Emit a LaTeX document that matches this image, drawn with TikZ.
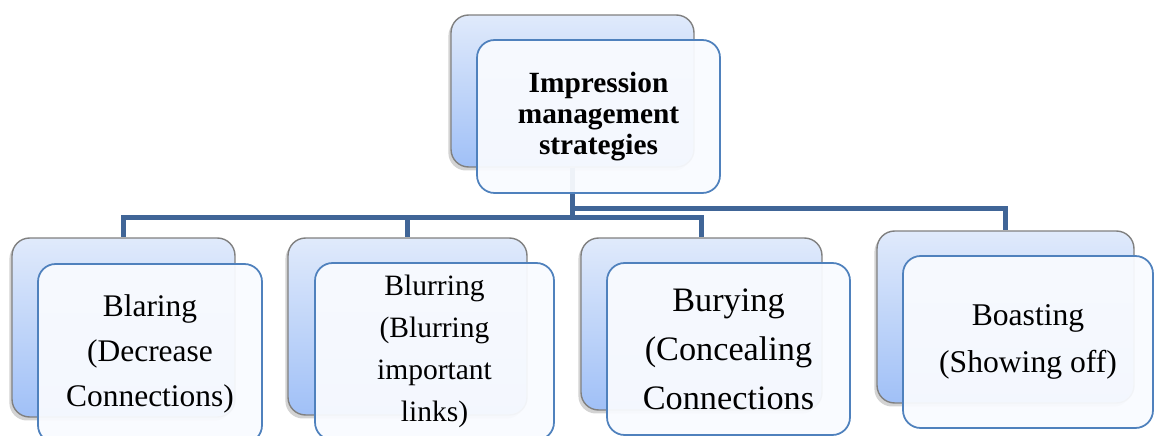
\documentclass[tikz,border=0pt]{standalone}
\usepackage{fontspec}
\setmainfont{Liberation Serif}
\usepackage{tikz}
\usetikzlibrary{calc,positioning,shadows}
\definecolor{linkblue}{RGB}{64,101,151}
\definecolor{frameblue}{RGB}{79,129,189}
\definecolor{shadetop}{RGB}{224,234,251}
\definecolor{shadebot}{RGB}{160,192,247}
\definecolor{paleface}{RGB}{249,251,255}
\tikzset{
	back/.style={rectangle,rounded corners=10pt,draw=black!50,line width=0.8pt,top color=shadetop,bottom color=shadebot,drop shadow={shadow xshift=-1.5pt,shadow yshift=-2pt,opacity=0.35}},
	front/.style={rectangle,rounded corners=10pt,draw=frameblue,line width=1pt,fill=paleface,fill opacity=0.94,text opacity=1,align=center},
	link/.style={draw=linkblue,line width=2.8pt}
}

\begin{document}
\begin{tikzpicture}[x=0.02cm,y=-0.02cm]
		\useasboundingbox (0,0) rectangle (1154,436);
		% back cards
		\node(impback) [back,minimum width=4.86cm,minimum height=3.04cm] at (572.5,91) {};
		\node(blaringback) [back,minimum width=4.46cm,minimum height=3.58cm] at (123.5,327.5) {};
		\node(blurringback) [back,minimum width=4.78cm,minimum height=3.54cm] at (407.5,326.5) {};
		\node(buryingback) [back,minimum width=4.82cm,minimum height=3.44cm] at (701.5,324) {};
		\node(boastingback) [back,minimum width=5.14cm,minimum height=3.44cm] at (1005.5,317) {};
		% tree lines
		\coordinate(busl) at ($(impback.south)+(0,50)$);
		\coordinate(busr) at ($(impback.south)+(0,41)$);
		\draw[link] (impback.south) -- (busl) -| (blaringback.north);
		\draw[link] (impback.south) -- (busl) -| (blurringback.north);
		\draw[link] (impback.south) -- (busl) -| (buryingback.north);
		\draw[link] (impback.south) -- (busr) -| (boastingback.north);
		% front cards
		\node(imp) [front,minimum width=4.86cm,minimum height=3.06cm,font=\fontsize{16.7}{17.5}\selectfont\bfseries] at ($(impback)+(26,25.5)$) {Impression\\management\\strategies};
		\node(blaring) [front,minimum width=4.48cm,minimum height=3.58cm,font=\fontsize{17.9}{25.6}\selectfont] at ($(blaringback)+(26.5,26)$) {Blaring\\(Decrease\\Connections)};
		\node(blurring) [front,minimum width=4.78cm,minimum height=3.54cm,font=\fontsize{16.8}{24}\selectfont] at ($(blurringback)+(27,25)$) {Blurring\\(Blurring\\important\\links)};
		\node(burying) [front,minimum width=4.86cm,minimum height=3.44cm,font=\fontsize{19.5}{27.9}\selectfont] at ($(buryingback)+(27,25)$) {Burying\\(Concealing\\Connections};
		\node(boasting) [front,minimum width=5cm,minimum height=3.44cm,font=\fontsize{18}{26.7}\selectfont] at ($(boastingback)+(22.5,25)$) {Boasting\\(Showing off)};
	\end{tikzpicture}
\end{document}
